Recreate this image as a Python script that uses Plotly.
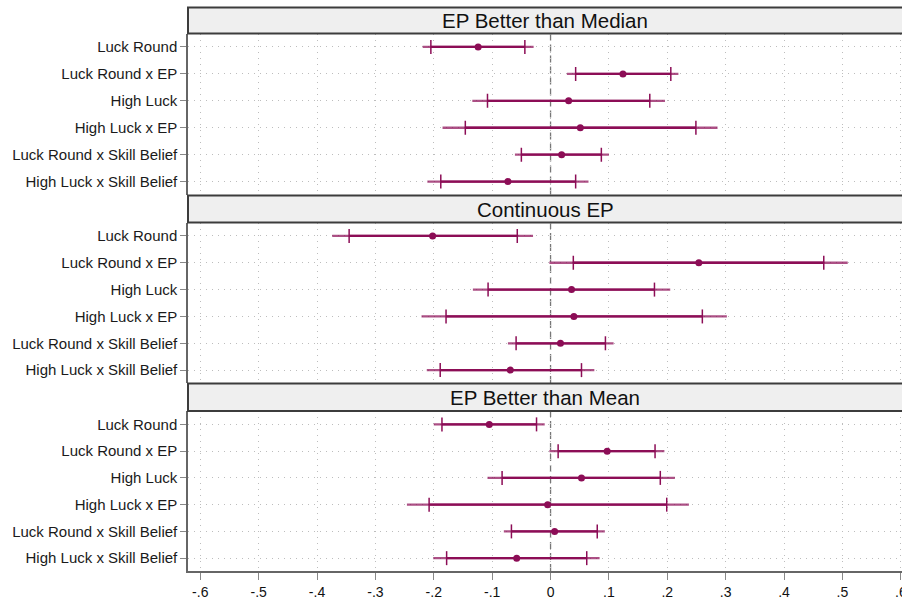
import plotly.graph_objects as go

# ---------------- data ----------------
panel_titles = ["EP Better than Median", "Continuous EP", "EP Better than Mean"]
terms = ["Luck Round", "Luck Round x EP", "High Luck", "High Luck x EP",
         "Luck Round x Skill Belief", "High Luck x Skill Belief"]

x_tick_vals = [-0.6, -0.5, -0.4, -0.3, -0.2, -0.1, 0, 0.1, 0.2, 0.3, 0.4, 0.5, 0.6]
x_tick_text = ["-.6", "-.5", "-.4", "-.3", "-.2", "-.1", "0", ".1", ".2", ".3", ".4", ".5", ".6"]

# EP Better than Median
median_coef = [-0.124, 0.124, 0.031, 0.051, 0.019, -0.073]
median_lo90 = [-0.205, 0.043, -0.108, -0.146, -0.050, -0.188]
median_hi90 = [-0.044, 0.206, 0.170, 0.249, 0.087, 0.043]
median_lo95 = [-0.219, 0.028, -0.134, -0.185, -0.061, -0.211]
median_hi95 = [-0.029, 0.219, 0.196, 0.286, 0.100, 0.065]

# Continuous EP
cont_coef = [-0.202, 0.254, 0.036, 0.040, 0.017, -0.069]
cont_lo90 = [-0.345, 0.039, -0.107, -0.179, -0.059, -0.189]
cont_hi90 = [-0.057, 0.468, 0.178, 0.260, 0.094, 0.053]
cont_lo95 = [-0.374, -0.002, -0.133, -0.221, -0.073, -0.212]
cont_hi95 = [-0.030, 0.509, 0.205, 0.302, 0.108, 0.075]

# EP Better than Mean
mean_coef = [-0.105, 0.097, 0.053, -0.005, 0.007, -0.058]
mean_lo90 = [-0.186, 0.013, -0.083, -0.208, -0.067, -0.178]
mean_hi90 = [-0.024, 0.179, 0.188, 0.199, 0.080, 0.062]
mean_lo95 = [-0.200, -0.002, -0.108, -0.246, -0.080, -0.201]
mean_hi95 = [-0.010, 0.195, 0.213, 0.237, 0.093, 0.084]

panels = [
    (median_coef, median_lo90, median_hi90, median_lo95, median_hi95),
    (cont_coef, cont_lo90, cont_hi90, cont_lo95, cont_hi95),
    (mean_coef, mean_lo90, mean_hi90, mean_lo95, mean_hi95),
]

# ---------------- layout geometry (pixels) ----------------
W, H = 902, 602
ML, MR, MT, MB = 188, 0, 0, 31
PH = H - MT - MB  # paper height in px


def py(p):
    return (PH - (p - MT)) / PH


# header top, header bottom(=plot top), plot bottom
geom = [(7.5, 33.5, 194.5), (195.5, 222.5, 383.0), (383.5, 411.0, 571.0)]

DARK = "#8c0d56"
LIGHT = "rgba(140,13,86,0.72)"
FONT = "Liberation Sans, Arial, sans-serif"
GRID = "#bdbdbd"
GRIDDASH = "1px,5px"

fig = go.Figure()
shapes = []
annotations = []

for i, (coef, lo90, hi90, lo95, hi95) in enumerate(panels):
    ax = "" if i == 0 else str(i + 1)
    xref, yref = "x" + ax, "y" + ax
    ypos = list(range(1, len(terms) + 1))

    ox, oy, ix, iy = [], [], [], []
    tx, ty = [], []
    for k, yv in enumerate(ypos):
        ox += [lo95[k], hi95[k], None]
        oy += [yv, yv, None]
        ix += [lo90[k], hi90[k], None]
        iy += [yv, yv, None]
        tx += [lo90[k], hi90[k]]
        ty += [yv, yv]

    fig.add_trace(go.Scatter(x=ox, y=oy, mode="lines", xaxis=xref, yaxis=yref,
                             line=dict(color=LIGHT, width=2.3), showlegend=False, hoverinfo="skip"))
    fig.add_trace(go.Scatter(x=ix, y=iy, mode="lines", xaxis=xref, yaxis=yref,
                             line=dict(color=DARK, width=2.3), showlegend=False, hoverinfo="skip"))
    fig.add_trace(go.Scatter(x=tx, y=ty, mode="markers", xaxis=xref, yaxis=yref,
                             marker=dict(symbol="line-ns", size=10,
                                         line=dict(color=DARK, width=1.5)),
                             showlegend=False, hoverinfo="skip"))
    fig.add_trace(go.Scatter(x=coef, y=ypos, mode="markers", xaxis=xref, yaxis=yref,
                             marker=dict(symbol="circle", size=7, color=DARK),
                             showlegend=False))

    htop, hbot, pbot = geom[i]
    is_bottom = (i == len(panels) - 1)

    fig.layout["xaxis" + ax] = dict(
        domain=[0, 1], range=[-0.621, 0.602], anchor="y" + ax,
        tickvals=x_tick_vals, ticktext=x_tick_text,
        showticklabels=is_bottom, ticklabeloverflow="allow", automargin=False,
        ticks="outside" if is_bottom else "", ticklen=7, tickcolor="#888", tickwidth=1,
        tickfont=dict(family=FONT, size=14, color="#111"),
        showgrid=True, gridcolor=GRID, griddash=GRIDDASH, gridwidth=1,
        zeroline=False,
        showline=is_bottom, linecolor="#666", linewidth=1.5,
        matches=None if i == 0 else "x",
    )
    fig.layout["yaxis" + ax] = dict(
        domain=[py(pbot), py(hbot)], range=[6.48, 0.5], anchor="x" + ax,
        tickvals=ypos, ticktext=terms, automargin=False,
        ticks="outside", ticklen=6, tickcolor="#888", tickwidth=1,
        tickfont=dict(family=FONT, size=15, color="#1a1a1a"),
        showgrid=True, gridcolor=GRID, griddash=GRIDDASH, gridwidth=1,
        zeroline=False, showline=True, linecolor="#666", linewidth=1.5,
    )

    # zero reference line
    shapes.append(dict(type="line", xref=xref, yref=yref + " domain", x0=0, x1=0, y0=0, y1=1,
                       line=dict(color="#777", width=1.3, dash="7px,4px"), layer="below"))
    # header strip
    shapes.append(dict(type="rect", xref="paper", yref="paper", x0=0, x1=1.02,
                       y0=py(hbot), y1=py(htop), fillcolor="#efefef",
                       line=dict(color="#3c3c3c", width=2), layer="above"))
    annotations.append(dict(text=panel_titles[i], xref="paper", yref="paper",
                            x=0.5, y=(py(hbot) + py(htop)) / 2, showarrow=False,
                            xanchor="center", yanchor="middle",
                            font=dict(family=FONT, size=20.5, color="#111")))

fig.update_layout(
    width=W, height=H,
    margin=dict(l=ML, r=MR, t=MT, b=MB, autoexpand=False),
    paper_bgcolor="white", plot_bgcolor="white",
    shapes=shapes, annotations=annotations,
    showlegend=False,
)

fig.write_html("out.html")
